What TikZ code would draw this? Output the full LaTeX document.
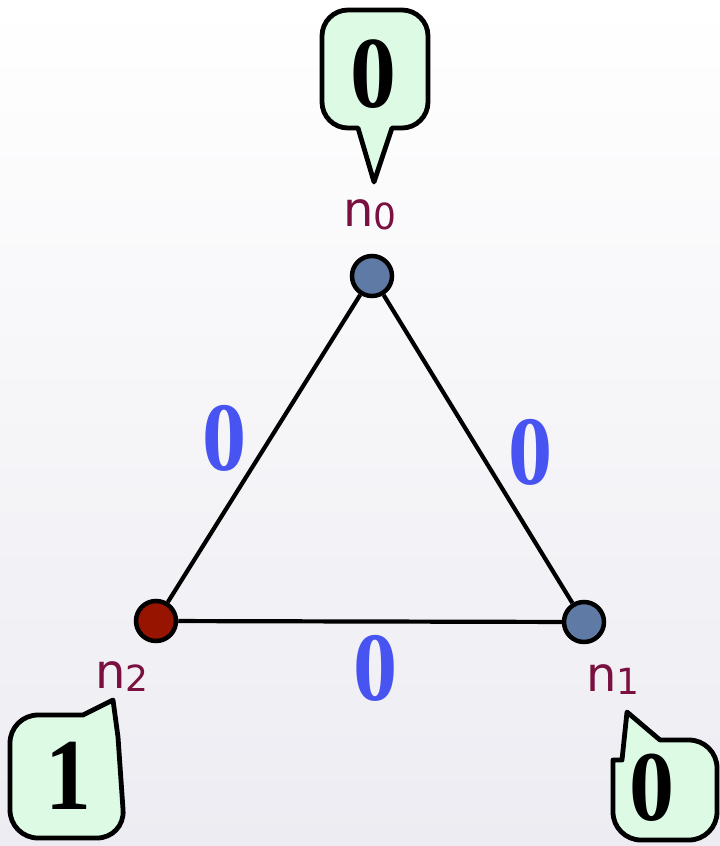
\documentclass[tikz,border=0pt]{standalone}
\usepackage{fontspec}
\newfontfamily\labfont{DejaVu Sans}
\newfontfamily\zerofont{Liberation Serif}
\definecolor{bgbot}{RGB}{236,236,242}
\definecolor{nodeblue}{RGB}{95,123,165}
\definecolor{nodered}{RGB}{150,20,0}
\definecolor{labmaroon}{RGB}{122,16,64}
\definecolor{edgeblue}{RGB}{72,84,242}
\definecolor{mint}{RGB}{220,250,228}
\tikzset{
  vert/.style={circle,draw=black,line width=4.5pt,minimum size=40pt,inner sep=0pt},
  edgeline/.style={line width=4.2pt,black},
  nlab/.style={text=labmaroon,inner sep=0pt,font=\labfont\fontsize{48}{48}\selectfont},
  elab/.style={text=edgeblue,inner sep=0pt},
  callout/.style={draw=black,fill=mint,line width=4.8pt,line join=round},
  cval/.style={text=black,inner sep=0pt}
}
\newcommand{\sublab}[1]{n\raisebox{-3pt}{\fontsize{36}{36}\selectfont #1}}
\newcommand{\bignum}[2]{\scalebox{0.9}[1]{\zerofont\bfseries\fontsize{#1}{#1}\selectfont #2}}
\begin{document}
\begin{tikzpicture}[x=1pt,y=-1pt]
\useasboundingbox (0,0) rectangle (720,846);
\fill[top color=white,bottom color=bgbot] (0,0) rectangle (720,846);
% vertices
\node[vert,fill=nodeblue] (n0) at (372,276) {};
\node[vert,fill=nodeblue] (n1) at (584,622) {};
\node[vert,fill=nodered] (n2) at (156,621) {};
% edges
\draw[edgeline] (n0) -- (n1);
\draw[edgeline] (n0) -- (n2);
\draw[edgeline] (n2) -- (n1);
% edge labels
\node[elab] (e02) at (225,438) {\bignum{98}{0}};
\node[elab] (e01) at (531,452) {\bignum{98}{0}};
\node[elab] (e12) at (376,668) {\bignum{98}{0}};
% vertex labels
\node[nlab] (l0) at (370,215) {\sublab{0}};
\node[nlab] (l1) at (613,680) {\sublab{1}};
\node[nlab] (l2) at (122,677) {\sublab{2}};
% callouts
\coordinate (t0) at (374,182);
\coordinate (t2) at (113,700);
\coordinate (t1) at (627,712);
\draw[callout] (t0) -- (392,128) [rounded corners=26] -- (428,128) -- (428,10) -- (322,10) -- (322,128) [sharp corners] -- (358,128) -- cycle;
\draw[callout] (t2) -- (118,737) [rounded corners=28] -- (125,838) -- (10,838) -- (10,715) [sharp corners] -- (83,715) -- cycle;
\draw[callout] (t1) -- (660,740) [rounded corners=28] -- (717,740) -- (717,840) -- (613,840) [sharp corners] -- (613,760) -- (622,760) -- cycle;
\node[cval] (c0) at (373,74) {\bignum{102}{0}};
\node[cval] (c2) at (68,776) {\bignum{102}{1}};
\node[cval] (c1) at (652,788) {\bignum{100}{0}};
\end{tikzpicture}
\end{document}
